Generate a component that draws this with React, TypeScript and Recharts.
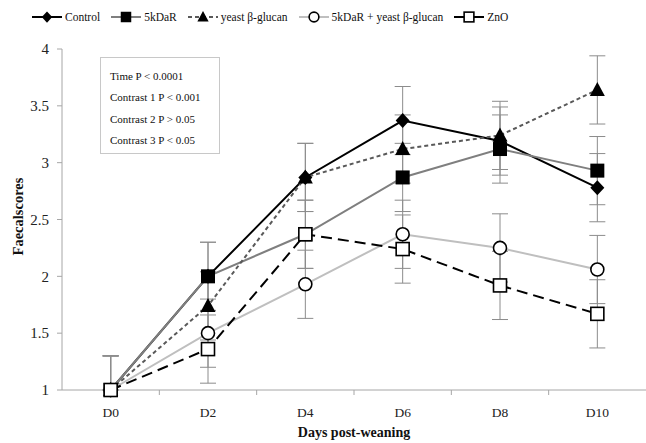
import { LineChart, Line, XAxis, YAxis, ErrorBar, Legend } from "recharts";

const days = ["D0", "D2", "D4", "D6", "D8", "D10"];
const control = [1, 2.0, 2.87, 3.37, 3.19, 2.78];
const kdar = [1, 2.0, 2.37, 2.87, 3.12, 2.93];
const yeast = [1, 1.74, 2.87, 3.12, 3.24, 3.64];
const combo = [1, 1.5, 1.93, 2.37, 2.25, 2.06];
const zno = [1, 1.36, 2.37, 2.24, 1.92, 1.67];
const sem = [[0, 0.3], 0.3, 0.3, 0.3, 0.3, 0.3];
const yTicks = [1, 1.5, 2, 2.5, 3, 3.5, 4];
const statLines = ["Time P < 0.0001", "Contrast 1 P < 0.001", "Contrast 2 P > 0.05", "Contrast 3 P < 0.05"];

const data = days.map((d, i) => ({
  day: d,
  control: control[i],
  kdar: kdar[i],
  yeast: yeast[i],
  combo: combo[i],
  zno: zno[i],
  err: sem[i],
}));

const FONT = "'Liberation Serif', 'Times New Roman', serif";
const W = 646;
const H = 443;
const HALF_BAND = (W - 62) / 12;

type Shape = "diamond" | "square" | "triangle" | "circle" | "openSquare";

function marker(shape: Shape, cx: number, cy: number, key?: any, k = 1) {
  switch (shape) {
    case "diamond":
      return <path key={key} d={`M${cx},${cy - 7.5 * k}L${cx + 7 * k},${cy}L${cx},${cy + 7.5 * k}L${cx - 7 * k},${cy}Z`} fill="#000" />;
    case "square":
      return <rect key={key} x={cx - 7 * k} y={cy - 7 * k} width={14 * k} height={14 * k} fill="#000" />;
    case "triangle":
      return <path key={key} d={`M${cx},${cy - 8 * k}L${cx + 7.5 * k},${cy + 6 * k}L${cx - 7.5 * k},${cy + 6 * k}Z`} fill="#000" />;
    case "circle":
      return <circle key={key} cx={cx} cy={cy} r={6.5 * k} fill="#fff" stroke="#000" strokeWidth={1.6} />;
    default:
      return <rect key={key} x={cx - 6.5 * k} y={cy - 6.5 * k} width={13 * k} height={13 * k} fill="#fff" stroke="#000" strokeWidth={1.6} />;
  }
}

const dot = (shape: Shape) => (p: any) => {
  if (p.cx == null || p.cy == null) return <g key={p.index} />;
  return marker(shape, p.cx, p.cy, p.index);
};

const series = [
  { key: "control", name: "Control", color: "#000", dash: undefined, shape: "diamond" as Shape },
  { key: "kdar", name: "5kDaR", color: "#7f7f7f", dash: undefined, shape: "square" as Shape },
  { key: "yeast", name: "yeast β-glucan", color: "#595959", dash: "4 3", shape: "triangle" as Shape },
  { key: "combo", name: "5kDaR + yeast β-glucan", color: "#bfbfbf", dash: undefined, shape: "circle" as Shape },
  { key: "zno", name: "ZnO", color: "#000", dash: "11 6", shape: "openSquare" as Shape },
];

const LegendBox = () => (
  <div style={{ display: "flex", alignItems: "center", height: 20, paddingLeft: 31, fontFamily: FONT, fontSize: 11.5, color: "#111" }}>
    {series.map((s) => (
      <div key={s.key} style={{ display: "flex", alignItems: "center", marginRight: 10 }}>
        <svg width={32} height={18}>
          <line x1={1} x2={31} y1={9} y2={9} stroke={s.color} strokeWidth={2} strokeDasharray={s.key === "yeast" ? "4 3" : undefined} />
          {marker(s.shape, 16, 9, undefined, 0.75)}
        </svg>
        <span style={{ marginLeft: 2 }}>{s.name}</span>
      </div>
    ))}
  </div>
);

const XTick = (p: any) => {
  const { x, y, payload, index } = p;
  return (
    <g>
      <text x={x} y={y + 27} textAnchor="middle" fontSize={13.5} fill="#222" fontFamily={FONT}>{payload.value}</text>
      {index < days.length - 1 && (
        <line x1={x + HALF_BAND} x2={x + HALF_BAND} y1={y} y2={y + 5} stroke="#a6a6a6" />
      )}
    </g>
  );
};

export default function App() {
  return (
    <div style={{ position: "absolute", left: 0, top: 0, width: W, height: H, background: "#fff" }}>
      <LineChart width={W} height={H} data={data} margin={{ top: 29, right: 0, left: 0, bottom: 0 }}>
        <Legend
          verticalAlign="top"
          content={<LegendBox />}
          wrapperStyle={{ top: 7, left: 0, width: W, height: 20 }}
        />
        <XAxis
          dataKey="day"
          height={53}
          padding={{ left: HALF_BAND, right: HALF_BAND }}
          axisLine={{ stroke: "#a6a6a6" }}
          tickLine={false}
          tickSize={0}
          tickMargin={0}
          tick={<XTick />}
          interval={0}
          label={({ viewBox }: any) => (
            <text x={viewBox.x + viewBox.width / 2} y={viewBox.y + 47} textAnchor="middle" fontSize={14} fontWeight="bold" fontFamily={FONT} fill="#111">
              Days post-weaning
            </text>
          )}
        />
        <YAxis
          width={62}
          domain={[1, 4]}
          ticks={yTicks}
          interval={0}
          axisLine={{ stroke: "#a6a6a6" }}
          tickLine={{ stroke: "#a6a6a6" }}
          tickSize={5}
          tickMargin={8}
          tick={{ fontSize: 15, fill: "#222", fontFamily: FONT }}
          label={({ viewBox }: any) => {
            const cx = viewBox.x + 18;
            const cy = viewBox.y + viewBox.height / 2 - 3;
            return (
              <text x={cx} y={cy} textAnchor="middle" dominantBaseline="central" transform={`rotate(-90 ${cx} ${cy})`} fontSize={14.5} fontWeight="bold" fontFamily={FONT} fill="#111">
                Faecalscores
              </text>
            );
          }}
        />
        {series.map((s) => (
          <Line
            key={s.key}
            dataKey={s.key}
            name={s.name}
            stroke={s.color}
            strokeWidth={2}
            strokeDasharray={s.dash}
            dot={dot(s.shape)}
            activeDot={false}
            isAnimationActive={false}
          >
            <ErrorBar dataKey="err" width={8} stroke="#8c8c8c" strokeWidth={1} />
          </Line>
        ))}
      </LineChart>
      <div
        style={{
          position: "absolute", left: 100, top: 57, width: 120, height: 97, boxSizing: "border-box",
          border: "1px solid #c8c8c8", background: "#fff", fontFamily: FONT, fontSize: 11, color: "#111",
          paddingLeft: 9, paddingTop: 10,
        }}
      >
        {statLines.map((t) => (
          <div key={t} style={{ height: 21.3, lineHeight: "16px" }}>{t}</div>
        ))}
      </div>
    </div>
  );
}
